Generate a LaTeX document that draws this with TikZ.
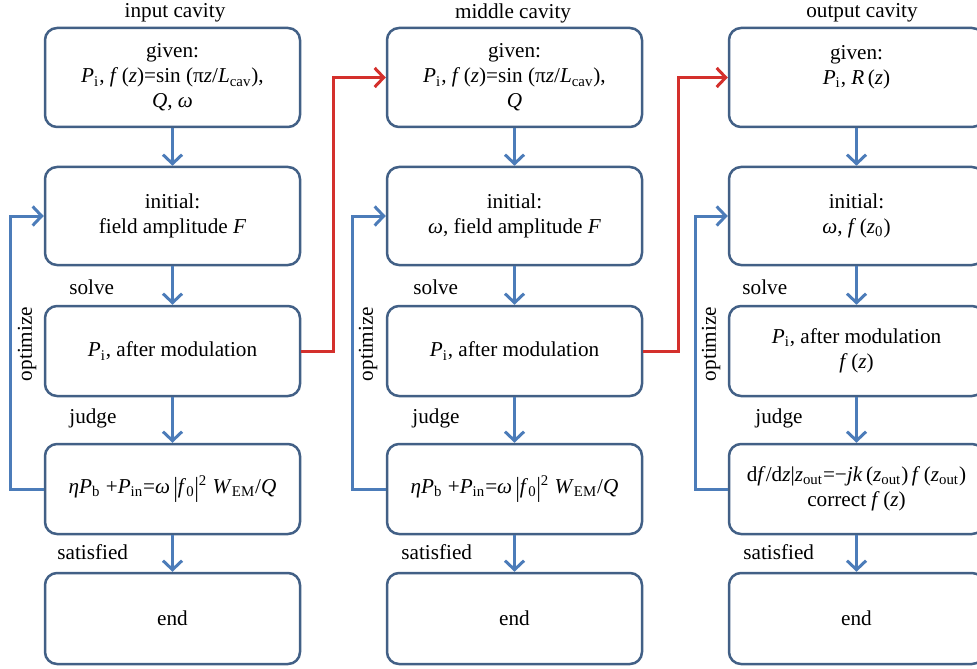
\documentclass[tikz,border=0pt]{standalone}
\usepackage{fontspec}
\setmainfont{Liberation Serif}
\usetikzlibrary{arrows.meta, positioning}

\definecolor{boxline}{RGB}{66,96,134}
\definecolor{flowblue}{RGB}{76,124,185}
\definecolor{linkred}{RGB}{212,48,44}

\newcommand{\lsub}[1]{\textsubscript{#1}}
\newcommand{\tallbar}{\raisebox{-0.18em}{\scalebox{1}[1.3]{|}}}
\newcommand{\givenline}{\textit{P}\lsub{i}, \textit{f}\,(\textit{z})=sin (π\textit{z}/\textit{L}\lsub{cav}),}
\newcommand{\judgeline}{\textit{ηP}\lsub{b} +\textit{P}\lsub{in}=\textit{ω}\,\tallbar\textit{f}\lsub{0}\tallbar\textsuperscript{2} \textit{W}\lsub{EM}/\textit{Q}}

\tikzset{
    box/.style={draw=boxline, line width=1.25pt, rounded corners=6pt, fill=white,
        align=center, minimum width=127.5pt, minimum height=#1},
    box/.default=45pt,
    flow/.style={draw=flowblue, line width=1.5pt, -{Straight Barb[length=4.5pt,width=9.5pt]}},
    link/.style={draw=linkred, line width=1.5pt, -{Straight Barb[length=4.5pt,width=9.5pt]}},
    lab/.style={anchor=west, inner sep=0pt},
    side/.style={rotate=90, inner sep=0pt}
}

\begin{document}
\begin{tikzpicture}[x=0.5pt, y=-0.5pt, every node/.style={font=\fontsize{10.6pt}{12.5pt}\selectfont}]
    % Picture frame (the right column runs past the edge)
    \useasboundingbox (0,0) rectangle (977,668);
    \clip (0,0) rectangle (977,668);

    % Column x positions
    \def\colA{172.5}
    \def\colB{514.5}
    \def\colC{856.5}

    % Titles
    \node (tin) at (175,13) {input cavity};
    \node (tmid) at (513,13) {middle cavity};
    \node (tout) at (862,13) {output cavity};

    % Input cavity
    \node[box=49.5pt] (in1) at (\colA,77.5) {given:\\ \givenline\\ \textit{Q}, \textit{ω}};
    \node[box=49pt] (in2) at (\colA,216) {initial:\\ field amplitude \textit{F}};
    \node[box] (in3) at (\colA,351) {\textit{P}\lsub{i}, after modulation};
    \node[box] (in4) at (\colA,489) {\judgeline};
    \node[box=45.5pt] (in5) at (\colA,618.5) {end};

    % Middle cavity
    \node[box=49.5pt] (mid1) at (\colB,77.5) {given:\\ \givenline\\ \textit{Q}};
    \node[box=49pt] (mid2) at (\colB,216) {initial:\\ \textit{ω}, field amplitude \textit{F}};
    \node[box] (mid3) at (\colB,351) {\textit{P}\lsub{i}, after modulation};
    \node[box] (mid4) at (\colB,489) {\judgeline};
    \node[box=45.5pt] (mid5) at (\colB,618.5) {end};

    % Output cavity
    \node[box=49.5pt] (out1) at (\colC,77.5) {given:\\ \textit{P}\lsub{i}, \textit{R}\,(\textit{z})\\ \mbox{}};
    \node[box=49pt] (out2) at (\colC,216) {initial:\\ \textit{ω}, \textit{f}\,(\textit{z}\lsub{0})};
    \node[box] (out3) at (\colC,351) {\textit{P}\lsub{i}, after modulation\\ \textit{f}\,(\textit{z})};
    \node[box] (out4) at (\colC,489) {d\textit{f}/d\textit{z}|\textit{z}\lsub{out}=−\textit{jk}\,(\textit{z}\lsub{out})\,\textit{f}\,(\textit{z}\lsub{out})\\ correct \textit{f}\,(\textit{z})};
    \node[box=45.5pt] (out5) at (\colC,618.5) {end};

    % Step labels
    \node[lab] (sin) at (69,287) {solve};
    \node[lab] (jin) at (69,418) {judge};
    \node[lab] (fin) at (57,552) {satisfied};
    \node[lab] (smid) at (413,287) {solve};
    \node[lab] (jmid) at (412,418) {judge};
    \node[lab] (fmid) at (401,552) {satisfied};
    \node[lab] (sout) at (742,287) {solve};
    \node[lab] (jout) at (755,418) {judge};
    \node[lab] (fout) at (743,552) {satisfied};

    % Loop labels
    \node[side] (oin) at (27,344) {optimize};
    \node[side] (omid) at (368,344) {optimize};
    \node[side] (oout) at (711,344) {optimize};

    % Down arrows
    \draw[flow] (in1) -- (in2);
    \draw[flow] (in2) -- (in3);
    \draw[flow] (in3) -- (in4);
    \draw[flow] (in4) -- (in5);
    \draw[flow] (mid1) -- (mid2);
    \draw[flow] (mid2) -- (mid3);
    \draw[flow] (mid3) -- (mid4);
    \draw[flow] (mid4) -- (mid5);
    \draw[flow] (out1) -- (out2);
    \draw[flow] (out2) -- (out3);
    \draw[flow] (out3) -- (out4);
    \draw[flow] (out4) -- (out5);

    % Optimize loops
    \draw[flow] (in4.west) -- ++(-33,0) |- (in2.west);
    \draw[flow] (mid4.west) -- ++(-33,0) |- (mid2.west);
    \draw[flow] (out4.west) -- ++(-32,0) |- (out2.west);

    % Links between cavities
    \draw[link] (in3.east) -- ++(32,0) |- (mid1.west);
    \draw[link] (mid3.east) -- ++(35,0) |- (out1.west);
\end{tikzpicture}
\end{document}
